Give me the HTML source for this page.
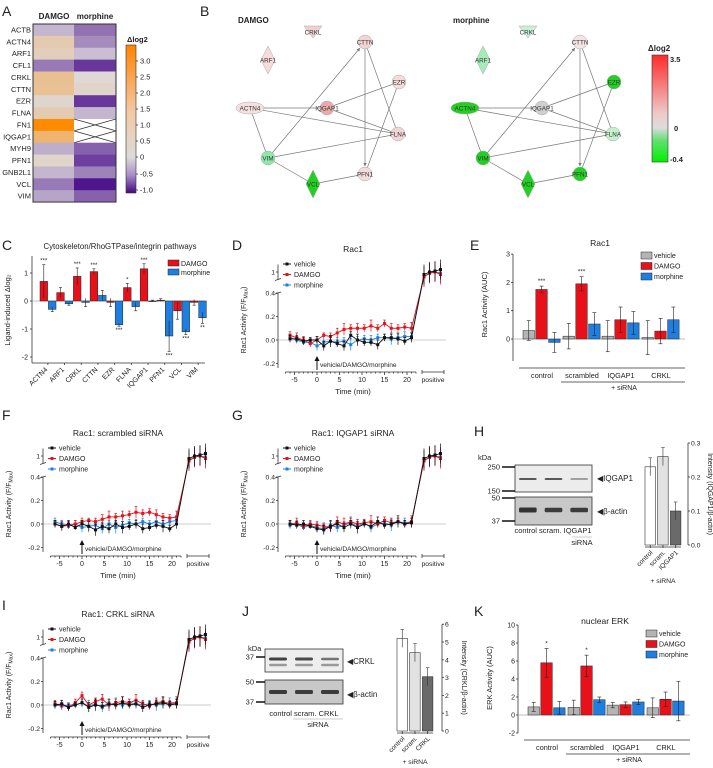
<!DOCTYPE html>
<html><head><meta charset="utf-8"><style>
body{margin:0;background:#fff}
svg{display:block;font-family:"Liberation Sans",Arial,sans-serif}
</style></head><body>
<svg id="fig" width="713" height="768" viewBox="0 0 713 768" xmlns="http://www.w3.org/2000/svg"></svg>
<script>
// ---------- data ----------
const heatGenes=["ACTB","ACTN4","ARF1","CFL1","CRKL","CTTN","EZR","FLNA","FN1","IQGAP1","MYH9","PFN1","GNB2L1","VCL","VIM"];
const heatDamgo=[-0.2,0.4,0.25,-0.55,0.8,0.75,0.05,0.35,3.3,1.3,-0.25,0.08,-0.2,-0.55,-0.3];
const heatMorph=[-0.6,-0.45,-0.15,-0.95,0.0,0.1,-0.95,-0.2,null,null,-0.7,-0.9,-0.5,-1.15,-0.7];

const cCats=["ACTN4","ARF1","CRKL","CTTN","EZR","FLNA","IQGAP1","PFN1","VCL","VIM"];
const cDamgo=[0.7,0.3,0.88,1.05,-0.05,0.48,1.15,0.03,-0.35,-0.05];
const cMorph=[-0.3,-0.1,-0.05,0.2,-0.85,-0.2,0.0,-1.25,-1.1,-0.6];
const cDamgoErr=[0.6,0.18,0.3,0.1,0.15,0.15,0.18,0.05,0.3,0.1];
const cMorphErr=[0.08,0.05,0.15,0.18,0.05,0.15,0.03,0.55,0.1,0.2];
const cDamgoSig=["***","","***","***","","*","***","","",""];
const cMorphSig=["","","","","***","","","***","***","**"];

const tsTimes=[-6,-4.5,-3,-1.5,0,1.5,3,4.5,6,7.5,9,10.5,12,13.5,15,16.5,18,19.5,21];
const dVeh=[0.01,0.01,-0.01,0.0,0.0,-0.05,-0.01,-0.03,-0.05,0.04,0.0,-0.02,-0.02,-0.04,0.02,0.02,0.01,-0.01,0.02];
const dDam=[0.04,0.02,0.0,-0.03,0.0,0.04,0.03,0.06,0.09,0.1,0.1,0.1,0.12,0.1,0.14,0.1,0.1,0.11,0.1];
const dMor=[0.02,0.0,-0.02,-0.02,-0.05,-0.02,-0.01,-0.02,-0.01,-0.04,0.0,0.01,0.0,0.02,0.02,0.01,0.02,0.03,0.03];
const fVeh=[0.0,-0.02,0.0,-0.03,0.0,-0.02,-0.05,-0.02,-0.04,0.0,-0.03,-0.02,0.0,-0.04,-0.03,-0.01,-0.02,-0.04,0.0];
const fDam=[0.0,-0.02,-0.01,0.0,0.02,0.03,0.02,0.04,0.06,0.06,0.07,0.08,0.1,0.09,0.1,0.08,0.06,0.05,0.06];
const fMor=[0.02,0.0,-0.02,0.0,-0.03,-0.02,-0.01,-0.04,0.0,-0.03,-0.01,0.01,0.0,0.02,0.0,0.02,0.0,0.02,0.03];
const gVeh=[0.0,-0.01,0.0,-0.02,-0.04,-0.05,-0.02,0.0,-0.03,0.0,-0.03,0.0,-0.02,0.02,-0.01,0.0,0.02,0.0,0.01];
const gDam=[0.0,0.01,-0.02,0.0,-0.01,-0.02,-0.03,0.02,0.0,0.02,0.0,0.01,0.02,0.0,0.03,0.01,0.02,0.0,0.02];
const gMor=[-0.01,0.0,-0.03,-0.01,-0.03,-0.04,-0.01,-0.03,-0.01,0.01,-0.02,0.01,-0.03,0.0,0.01,-0.01,0.02,0.01,0.02];
const iVeh=[0.0,0.01,-0.02,0.0,0.02,-0.02,0.0,-0.01,0.01,0.0,0.02,0.0,0.01,-0.02,0.0,0.01,0.02,0.0,0.01];
const iDam=[0.01,0.0,-0.02,0.02,0.08,0.0,0.03,0.05,0.0,0.02,0.03,0.02,0.04,0.01,-0.01,0.02,0.03,0.01,0.02];
const iMor=[0.0,-0.01,0.0,0.0,0.02,-0.01,0.01,-0.02,0.0,0.01,0.0,0.02,0.01,0.0,0.01,0.0,0.01,0.02,0.02];
const tsErr=[0.03,0.04,0.03,0.03,0.05,0.03,0.04,0.03,0.03,0.03,0.02,0.03,0.04,0.05,0.03,0.04,0.03,0.05,0.03];
const posVeh=[0.95,1.0,1.02,1.05];
const posDam=[0.9,0.98,1.0,0.95];
const posMor=[0.92,0.97,1.0,0.98];

const groups=["control","scrambled","IQGAP1","CRKL"];
const eVeh=[0.3,0.1,0.1,0.05], eDam=[1.75,1.95,0.68,0.28], eMor=[-0.12,0.53,0.57,0.68];
const eVehErr=[0.35,0.45,0.55,0.6], eDamErr=[0.12,0.25,0.45,0.45], eMorErr=[0.35,0.4,0.4,0.45];
const eSig=["***","***","",""];
const eTicks=[3,2,1,0];
const kVeh=[0.9,0.85,1.1,0.8], kDam=[5.8,5.45,1.15,1.75], kMor=[0.8,1.7,1.45,1.55];
const kVehErr=[0.5,0.8,0.3,1.1], kDamErr=[1.6,1.2,0.3,0.8], kMorErr=[0.7,0.3,0.3,2.2];
const kSig=["*","*","",""];
const kTicks=[10,8,6,4,2,0,-2];

const hCats=["control","scram.","IQGAP1"];
const hVals=[0.23,0.26,0.10];
const hTicks=[0.0,0.1,0.2,0.3];
const jCats=["control","scram.","CRKL"];
const jVals=[5.2,4.4,3.05];
const jTicks=[0,1,2,3,4,5,6];

// ---------- helpers ----------
const S="http://www.w3.org/2000/svg";
const svg=document.getElementById('fig');
function mk(tag,at,par){const e=document.createElementNS(S,tag);for(const k in at)e.setAttribute(k,at[k]);(par||svg).appendChild(e);return e;}
function txt(x,y,s,size,anchor,extra){const t=mk('text',Object.assign({x:x,y:y,'font-size':size,'text-anchor':anchor||'start',fill:'#222'},extra||{}));t.textContent=s;return t;}
function line(x1,y1,x2,y2,c,w){return mk('line',{x1:x1,y1:y1,x2:x2,y2:y2,stroke:c||'#333','stroke-width':w||0.8});}
const RED='#e8111a',BLUE='#1f7fe0',GREY='#b4b4b4';

// panel letters
[["A",2,16],["B",200,16],["C",2,250],["D",232,250],["E",470,250],["F",2,420],["G",232,420],["H",474,436],["I",2,610],["J",242,616],["K",474,616]].forEach(p=>{
 const t=txt(p[1],p[2],p[0],14,'start');
 
 
});

// ---------- A heatmap ----------
function purpOr(v){
 if(v>=0){const f=Math.min(v/3.3,1);const a=[222,216,214],b=[255,140,0];
  const ff=Math.pow(f,0.8);return `rgb(${a.map((c,i)=>Math.round(c+(b[i]-c)*ff)).join(',')})`;}
 const f=Math.min(-v/1.2,1);const a=[220,216,220],b=[72,12,138];
 return `rgb(${a.map((c,i)=>Math.round(c+(b[i]-c)*f)).join(',')})`;
}
txt(54,19,"DAMGO",8,'middle',{'font-weight':'bold'});
txt(95,19,"morphine",8,'middle',{'font-weight':'bold'});
const hy0=24,rh=11.87;
heatGenes.forEach((g,i)=>{
 const y=hy0+i*rh;
 const lt=txt(31,y+8.5,g,7.5,'end');
 
 
 const r1=mk('rect',{x:33,y:y,width:41,height:rh+0.3,fill:purpOr(heatDamgo[i])});
 
 
 if(heatMorph[i]===null){
  const r2=mk('rect',{x:74,y:y,width:42,height:rh+0.3,fill:'#fff'});
  
  
  line(74,y,116,y+rh,'#333',0.8);line(74,y+rh,116,y,'#333',0.8);
 }else{
  const r2=mk('rect',{x:74,y:y,width:42,height:rh+0.3,fill:purpOr(heatMorph[i])});
  
  
 }
});
mk('rect',{x:33,y:24,width:83,height:15*rh,fill:'none',stroke:'#333','stroke-width':1});
const defs=mk('defs',{});
const gA=mk('linearGradient',{id:'gA',x1:0,y1:0,x2:0,y2:1},defs);
[[0,'#ff8400'],[0.45,'#f4c8a4'],[0.76,'#dcdad8'],[0.88,'#a88cc8'],[1,'#44087f']].forEach(s=>mk('stop',{offset:s[0],'stop-color':s[1]},gA));
const cbA=mk('rect',{x:126,y:45,width:10,height:148,fill:'url(#gA)',stroke:'#333','stroke-width':0.6});


txt(127,42,"Δlog2",7.5,'start',{'font-weight':'bold'});
[["3.0",61],["2.5",77],["2.0",93],["1.5",109],["1.0",125],["0.5",141],["0",157],["-0.5",174],["-1.0",190]].forEach(t=>{txt(140,t[1]+2.5,t[0],7.5);line(136,t[1],138,t[1]);});

// ---------- B networks ----------
const gB=mk('linearGradient',{id:'gB',x1:0,y1:0,x2:0,y2:1},defs);
[[0,'#ff2a2a'],[0.55,'#eecaca'],[0.68,'#dcdcdc'],[0.8,'#60e070'],[1,'#00f000']].forEach(s=>mk('stop',{offset:s[0],'stop-color':s[1]},gB));
const mArr=mk('marker',{id:'arr',viewBox:'0 0 10 10',refX:9,refY:5,markerWidth:5,markerHeight:5,orient:'auto'},defs);
mk('path',{d:'M0,0L10,5L0,10z',fill:'#777'},mArr);
const nodes={CRKL:[83,32,'tri'],ARF1:[38,60,'dia'],CTTN:[135,42,'c'],EZR:[169,82,'c'],ACTN4:[20,108,'el'],IQGAP1:[97,108,'c'],FLNA:[168,134,'c'],VIM:[38,158,'c'],VCL:[83,184,'dia'],PFN1:[135,174,'c']};
const edges=[["ACTN4","IQGAP1",0],["ACTN4","FLNA",0],["ACTN4","VIM",0],["VIM","CTTN",1],["IQGAP1","EZR",0],["IQGAP1","FLNA",0],["CTTN","PFN1",1],["CTTN","FLNA",0],["EZR","PFN1",0],["VIM","FLNA",0],["VIM","VCL",0],["VCL","PFN1",0]];
const netD={CRKL:'#f2d0d0',ARF1:'#f6dcdc',CTTN:'#f2d4d4',EZR:'#f4dcdc',ACTN4:'#f4e0e0',IQGAP1:'#eaaaaa',FLNA:'#f2d6d6',VIM:'#8ee8a8',VCL:'#22d022',PFN1:'#f2dcdc'};
const netM={CRKL:'#c8f0d4',ARF1:'#a4ecb8',CTTN:'#f4e4e4',EZR:'#22d022',ACTN4:'#22d022',IQGAP1:'#d0d0d0',FLNA:'#c4f0cc',VIM:'#22d022',VCL:'#22d022',PFN1:'#22d022'};
function network(ox,title,cols,nm){
 const g=mk('g',{transform:`translate(${ox},0)`});
 
 
 const tt=mk('text',{x:8,y:23,'font-size':8,'font-weight':'bold',fill:'#222'},g);tt.textContent=title;
 edges.forEach(e=>{const a=nodes[e[0]],b=nodes[e[1]];
  let x2=b[0],y2=b[1];if(e[2]){const dx=a[0]-b[0],dy=a[1]-b[1],d=Math.hypot(dx,dy);x2=b[0]+dx/d*8;y2=b[1]+dy/d*8;}
  const l=mk('line',{x1:a[0],y1:a[1],x2:x2,y2:y2,stroke:'#777','stroke-width':0.7},g);
  if(e[2])l.setAttribute('marker-end','url(#arr)');});
 for(const k in nodes){const n=nodes[k];let s;
  if(n[2]==='c')s=mk('circle',{cx:n[0],cy:n[1],r:7,fill:cols[k],stroke:'#aaa','stroke-width':0.5},g);
  else if(n[2]==='el')s=mk('ellipse',{cx:n[0],cy:n[1],rx:14,ry:6,fill:cols[k],stroke:'#aaa','stroke-width':0.5},g);
  else if(n[2]==='dia')s=mk('polygon',{points:`${n[0]},${n[1]-14} ${n[0]+7},${n[1]} ${n[0]},${n[1]+14} ${n[0]-7},${n[1]}`,fill:cols[k],stroke:'#aaa','stroke-width':0.5},g);
  else s=mk('polygon',{points:`${n[0]-9},${n[1]-6} ${n[0]+9},${n[1]-6} ${n[0]},${n[1]+6}`,fill:cols[k],stroke:'#aaa','stroke-width':0.5},g);
  
  
  const t=mk('text',{x:n[0],y:n[1]+2.3,'font-size':6.3,'text-anchor':'middle',fill:'#333'},g);t.textContent=k;}
}
network(230,"DAMGO",netD,'network-damgo');
network(445,"morphine",netM,'network-morphine');
const cbB=mk('rect',{x:652,y:55,width:16,height:107,fill:'url(#gB)',stroke:'#333','stroke-width':0.6});


txt(648,51,"Δlog2",8,'start',{'font-weight':'bold'});
txt(670,62,"3.5",7.5,'start',{'font-weight':'bold'});
txt(674,131,"0",7.5,'start',{'font-weight':'bold'});
txt(670,162,"-0.4",7.5,'start',{'font-weight':'bold'});

// ---------- C ----------
(function(){
 const ax=32,y0=301,u=28,x0=40,gw=16.7,bw=7.6;
 const yc=v=>y0-v*u;
 txt(120,249,"Cytoskeleton/RhoGTPase/integrin pathways",7.8,'middle');
 line(ax,256,ax,363);line(ax,363,205,363);
 [1,0,-1,-2].forEach(v=>{line(ax-2,yc(v),ax,yc(v));txt(ax-4,yc(v)+2.5,String(v),7,'end');});
 line(ax,y0,205,y0,'#888',0.6);
 txt(10,310,"Ligand-induced Δlog₂",7.5,'middle',{transform:'rotate(-90 10 310)'});
 cCats.forEach((c,i)=>{
  const gx=x0+i*gw;
  [[cDamgo,cDamgoErr,RED,cDamgoSig,'damgo'],[cMorph,cMorphErr,BLUE,cMorphSig,'morphine']].forEach((s,j)=>{
   const v=s[0][i],x=gx+j*(bw+0.8);
   const r=mk('rect',{x:x,y:Math.min(yc(v),y0),width:bw,height:Math.abs(yc(v)-y0)||0.6,fill:s[2],stroke:'#222','stroke-width':0.5});
   
   
   const e=s[1][i];line(x+bw/2,yc(v+e),x+bw/2,yc(v-e),'#222',0.6);
   line(x+bw/2-1.5,yc(v+(v>=0?e:-e)),x+bw/2+1.5,yc(v+(v>=0?e:-e)),'#222',0.6);
   if(s[3][i]){const sy=v>=0?yc(v+e)-2:yc(v-e)+6;txt(x+bw/2,sy,s[3][i],6,'middle');}
  });
  line(gx+gw/2-0.5,363,gx+gw/2-0.5,365);
  txt(gx+8,370,c,7,'end',{transform:`rotate(-45 ${gx+8} 370)`});
 });
 const r1=mk('rect',{x:168,y:260,width:11,height:6,fill:RED,stroke:'#222','stroke-width':0.5});
 
 const r2=mk('rect',{x:168,y:269,width:11,height:6,fill:BLUE,stroke:'#222','stroke-width':0.5});
 
 txt(181,266,"DAMGO",7);txt(181,275,"morphine",7);
})();

// ---------- time series D F G I ----------
function ts(ox,oy,title,veh,dam,mor,name,showTime){
 const xs=t=>ox+39+t*4.5, ys=v=>oy-v*117.5, py=v=>oy-68-(v-1)*50;
 const t=txt(ox+75,oy-88,title,8.5,'middle');
 
 line(ox,ys(0.4),ox,oy+28);line(ox,py(1.15),ox,py(0.85));
 [0.4,0.2,0,-0.2].forEach(v=>{line(ox-2,ys(v),ox,ys(v));txt(ox-3,ys(v)+2.5,v.toFixed(1),6.8,'end');});
 line(ox-2,py(1),ox,py(1));txt(ox-3,py(1)+2.5,"1",6.8,'end');
 line(ox-3,py(0.85)+1,ox+3,py(0.85)-1);line(ox-3,ys(0.4)+1,ox+3,ys(0.4)-1);
 const yl=mk('text',{x:ox-32,y:oy-20,'font-size':7,'text-anchor':'middle',fill:'#222',transform:`rotate(-90 ${ox-32} ${oy-20})`});
 yl.textContent="Rac1 Activity (F/F";
 const sub=mk('tspan',{'font-size':5,dy:1.5},yl);sub.textContent="Max";
 const cl=mk('tspan',{dy:-1.5},yl);cl.textContent=")";
 line(ox,oy,xs(22)+30,oy,'#999',0.6);
 const ay=oy+32;
 line(xs(-7),ay,xs(22),ay);line(xs(22)+6,ay,xs(22)+28,ay);line(xs(22)+6,ay-2,xs(22)+6,ay+2);line(xs(22)+28,ay-2,xs(22)+28,ay+2);
 for(let k=-7;k<=22;k++)line(xs(k),ay,xs(k),ay+(k%5===0?3:1.5));
 [-5,0,5,10,15,20].forEach(k=>txt(xs(k),ay+10,String(k),7,'middle'));
 txt(xs(22)+17,ay+10,"positive",6.8,'middle');
 if(showTime)txt(xs(8),ay+22,"Time (min)",7.5,'middle');
 line(xs(0),ay-2,xs(0),ay-14,'#111',1);mk('path',{d:`M${xs(0)-2.5},${ay-11}L${xs(0)},${ay-16}L${xs(0)+2.5},${ay-11}z`,fill:'#111'});
 txt(xs(0)+3,ay-5,"vehicle/DAMGO/morphine",6.6,'start');
 [[mor,posMor,BLUE,'morphine'],[dam,posDam,RED,'damgo'],[veh,posVeh,'#111','vehicle']].forEach(s=>{
  const pts=tsTimes.map((tt,i)=>[xs(tt),ys(s[0][i])]);
  const pl=mk('polyline',{points:pts.map(p=>p.join(',')).join(' '),fill:'none',stroke:s[2],'stroke-width':0.9});
  
  tsTimes.forEach((tt,i)=>{const e=tsErr[(i+s[3].length)%tsErr.length];
   line(xs(tt),ys(s[0][i]+e),xs(tt),ys(s[0][i]-e),s[2],0.7);line(xs(tt)-1.3,ys(s[0][i]+e),xs(tt)+1.3,ys(s[0][i]+e),s[2],0.7);
   const p=mk('rect',{x:xs(tt)-1.5,y:ys(s[0][i])-1.5,width:3,height:3,fill:s[2]});
   });
  const pp=s[1].map((v,i)=>[xs(22)+8+i*5.5,py(v)]);
  line(pts[pts.length-1][0],pts[pts.length-1][1],pp[0][0],pp[0][1],s[2],0.9);
  mk('polyline',{points:pp.map(p=>p.join(',')).join(' '),fill:'none',stroke:s[2],'stroke-width':0.9});
  pp.forEach((p,i)=>{line(p[0],p[1]-10,p[0],p[1]+10,s[2],0.7);
   const q=mk('rect',{x:p[0]-1.5,y:p[1]-1.5,width:3,height:3,fill:s[2]});
   });
 });
 [['vehicle','#111'],['DAMGO',RED],['morphine',BLUE]].forEach((l,i)=>{
  const ly=oy-76+i*10.5;line(ox+5,ly,ox+13,ly,l[1],1);mk('rect',{x:ox+7.5,y:ly-1.5,width:3,height:3,fill:l[1]});
  const lt=txt(ox+16,ly+2.5,l[0],7);});
}
ts(278,340,"Rac1",dVeh,dDam,dMor,'rac1-control',true);
ts(43,524,"Rac1: scrambled siRNA",fVeh,fDam,fMor,'rac1-scrambled',true);
ts(278,524,"Rac1: IQGAP1 siRNA",gVeh,gDam,gMor,'rac1-iqgap1',true);
ts(43,705,"Rac1: CRKL siRNA",iVeh,iDam,iMor,'rac1-crkl',false);

// ---------- grouped bars E K ----------
function gbar(ax,y0,u,ticks,title,ylab,veh,dam,mor,vE,dE,mE,sig,nm,legY,axY){
 const gx=[ax+10,ax+50,ax+89,ax+129],bw=11.5;
 const yc=v=>y0-v*u;
 const tt=txt(ax+87,legY-6,title,8.5,'middle');
 line(ax,yc(ticks[0]),ax,yc(ticks[ticks.length-1])+(ticks[ticks.length-1]===0?22:0));
 ticks.forEach(v=>{line(ax-2,yc(v),ax,yc(v));txt(ax-3,yc(v)+2.5,String(v),7,'end');});
 line(ax,y0,ax+172,y0,'#aaa',0.8);
 txt(ax-26,y0-(ticks[0]*u)/2+8,ylab,7.5,'middle',{transform:`rotate(-90 ${ax-26} ${y0-(ticks[0]*u)/2+8})`});
 groups.forEach((g,i)=>{
  [[veh,vE,GREY,'vehicle'],[dam,dE,RED,'damgo'],[mor,mE,BLUE,'morphine']].forEach((s,j)=>{
   const v=s[0][i],x=gx[i]+j*(bw+1.3),e=s[1][i];
   const r=mk('rect',{x:x,y:Math.min(yc(v),y0),width:bw,height:Math.abs(yc(v)-y0),fill:s[2],stroke:'#222','stroke-width':0.5});
   
   line(x+bw/2,yc(v+e),x+bw/2,yc(v-e),'#222',0.6);line(x+bw/2-2,yc(v+e),x+bw/2+2,yc(v+e),'#222',0.6);line(x+bw/2-2,yc(v-e),x+bw/2+2,yc(v-e),'#222',0.6);
   if(j===1&&sig[i])txt(x+bw/2,yc(v+e)-3,sig[i],6.5,'middle');
  });
  txt(gx[i]+19,axY+10,g,7.3,'middle');
 });
 line(ax+6,axY,ax+172,axY);line(gx[1]-2,axY+14,ax+172,axY+14);txt(ax+111,axY+22,"+ siRNA",7,'middle');
 [['vehicle',GREY],['DAMGO',RED],['morphine',BLUE]].forEach((l,i)=>{
  const r=mk('rect',{x:ax+128,y:legY+i*10.5,width:11,height:7,fill:l[1],stroke:'#222','stroke-width':0.5});
  
  txt(ax+141,legY+6+i*10.5,l[0],7);});
}
gbar(513,339,28.3,eTicks,"Rac1","Rac1 Activity (AUC)",eVeh,eDam,eMor,eVehErr,eDamErr,eMorErr,eSig,'rac1-auc',252,368);
gbar(518,715,9,kTicks,"nuclear ERK","ERK Activity (AUC)",kVeh,kDam,kMor,kVehErr,kDamErr,kMorErr,kSig,'erk-auc',630,740);

// ---------- western blots ----------
function blot(x1,x2,y,h,bands,nm){
 const r=mk('rect',{x:x1,y:y,width:x2-x1,height:h,fill:bands.bg,stroke:'#333','stroke-width':0.8});
 
 const lw=(x2-x1)/3;
 bands.list.forEach(b=>{for(let i=0;i<3;i++)mk('rect',{x:x1+i*lw+4,y:y+b.y-b.h[i]/2,width:lw-8,height:b.h[i],rx:1.5,fill:b.c,opacity:b.o[i]});});
}
function quant(ax,y0,u,ticks,cats,vals,ylab,nm,bx,sirnaDy){
 const yc=v=>y0-v*u;
 const top=ticks[ticks.length-1];
 line(ax,yc(top),ax,y0);
 ticks.forEach(v=>{line(ax,yc(v),ax+2,yc(v));txt(ax+3,yc(v)+2.5,top<1?v.toFixed(1):String(v),6.8);});
 const cols=['#fff','#e2e2e2','#6a6a6a'];
 cats.forEach((c,i)=>{const x=bx+i*12.7;
  const r=mk('rect',{x:x,y:yc(vals[i]),width:10.5,height:y0-yc(vals[i]),fill:cols[i],stroke:'#333','stroke-width':0.6});
  
  line(x+5.25,yc(vals[i])-9,x+5.25,yc(vals[i])+9,'#333',0.6);line(x+3.5,yc(vals[i])-9,x+7,yc(vals[i])-9,'#333',0.6);
  line(x+5.25,y0,x+5.25,y0+3);
  txt(x+8,y0+8,c,6.5,'end',{transform:`rotate(-45 ${x+8} ${y0+8})`});});
 line(bx,y0+2,bx+36,y0+2);
 txt(bx+18,y0+sirnaDy,"+ siRNA",6.8,'middle');
 txt(ax+20,(y0+yc(top))/2,ylab,7,'middle',{transform:`rotate(90 ${ax+20} ${(y0+yc(top))/2})`});
}
// H
blot(515,592,465,27,{bg:'#ececec',list:[{y:14,h:[2,2,1.6],c:'#333',o:[0.8,0.8,0.55]}]},'blot-iqgap1');
blot(515,592,497,28,{bg:'#c8c8c8',list:[{y:13,h:[5,4.5,4.5],c:'#222',o:[0.9,0.85,0.85]}]},'blot-actin-h');
txt(478,460,"kDa",7.5);[["250",467],["150",491],["50",498],["37",521]].forEach(k=>{txt(500,k[1]+2.5,k[0],7.5,'end');line(502,k[1],515,k[1],'#111',1.5);});
txt(597,481,"◀IQGAP1",8);txt(597,514,"◀β-actin",8);
txt(553,533,"control scram. IQGAP1",7.5,'middle');line(572,537,592,537,'#999',0.6);txt(582,545,"siRNA",7.5,'middle');
quant(688,545,340,hTicks,hCats,hVals,"Intensity (IQGAP1/β-actin)",'iqgap1-quant',645,38);
// J
blot(265,343,649,23,{bg:'#eeeeee',list:[{y:10,h:[3,3,2.5],c:'#222',o:[0.85,0.8,0.6]},{y:16,h:[2.5,2.5,2.5],c:'#444',o:[0.5,0.5,0.5]}]},'blot-crkl');
blot(265,343,680,24,{bg:'#c8c8c8',list:[{y:12,h:[4,4,4],c:'#222',o:[0.85,0.85,0.85]}]},'blot-actin-j');
txt(248,651,"kDa",7.5);[["37",657],["50",682],["37",702]].forEach(k=>{txt(254,k[1]+2.5,k[0],7.5,'end');line(256,k[1],265,k[1],'#111',1.5);});
txt(347,664,"◀CRKL",8);txt(347,697,"◀β-actin",8);
txt(304,716,"control scram. CRKL",7.5,'middle');line(293,719,343,719,'#999',0.6);txt(318,727,"siRNA",7.5,'middle');
quant(442,731,17.8,jTicks,jCats,jVals,"Intensity (CRKL/β-actin)",'crkl-quant',397,33);
</script>
</body></html>
